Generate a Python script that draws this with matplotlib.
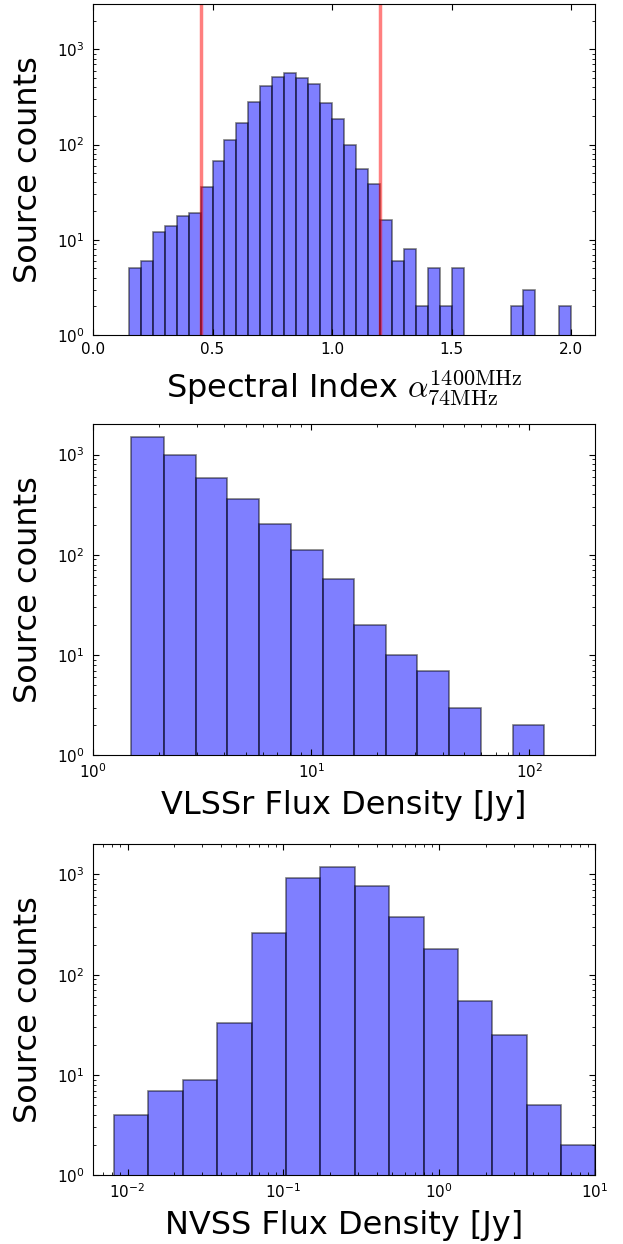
import numpy as np
import matplotlib
matplotlib.use('Agg')
from matplotlib import pyplot as plt
from matplotlib.ticker import MultipleLocator

# 经典风格：刻度朝内，四边都有刻度
plt.rcParams['font.family'] = ['DejaVu Sans']
plt.rcParams['mathtext.fontset'] = 'cm'
plt.rcParams['xtick.direction'] = 'in'
plt.rcParams['ytick.direction'] = 'in'
plt.rcParams['xtick.top'] = True
plt.rcParams['ytick.right'] = True
plt.rcParams['xtick.major.size'] = 4.5
plt.rcParams['ytick.major.size'] = 4.5
plt.rcParams['xtick.minor.size'] = 2.2
plt.rcParams['ytick.minor.size'] = 2.2
plt.rcParams['xtick.labelsize'] = 11
plt.rcParams['ytick.labelsize'] = 11
plt.rcParams['xtick.major.pad'] = 5
plt.rcParams['ytick.major.pad'] = 6

# 谱指数直方图
alpha_edges = [0.10, 0.15, 0.20, 0.25, 0.30, 0.35, 0.40, 0.45, 0.50, 0.55,
               0.60, 0.65, 0.70, 0.75, 0.80, 0.85, 0.90, 0.95, 1.00, 1.05,
               1.10, 1.15, 1.20, 1.25, 1.30, 1.35, 1.40, 1.45, 1.50, 1.55,
               1.60, 1.65, 1.70, 1.75, 1.80, 1.85, 1.90, 1.95, 2.00, 2.05]
alpha_counts = [0, 5, 6, 12, 14, 18, 19, 36, 67, 112,
                170, 280, 415, 516, 564, 496, 436, 275, 187, 99,
                56, 39, 16, 6, 8, 2, 5, 2, 5, 0,
                0, 0, 0, 2, 3, 0, 0, 2, 0]
alpha_cuts = [0.45, 1.2]

# VLSSr 流量
vlssr_edges = [1.50, 2.11, 2.95, 4.12, 5.76, 8.04, 11.27, 15.74, 21.98,
               30.7, 42.9, 59.8, 83.9, 117.2]
vlssr_counts = [1480, 1000, 582, 357, 201, 112, 58, 20, 10, 7, 3, 0, 2]

# NVSS 流量
nvss_edges = [0.00817, 0.0136, 0.0226, 0.0376, 0.0628, 0.1042, 0.1722,
              0.2877, 0.4775, 0.794, 1.321, 2.19, 3.65, 6.03, 10.0]
nvss_counts = [4, 7, 9, 33, 261, 927, 1184, 760, 373, 181, 55, 25, 5, 2]

fig = plt.figure(figsize=(6.23, 12.44), dpi=100)
left, width, height = 0.1493, 0.8058, 0.2661
ax1 = fig.add_axes([left, 0.7307, width, height])
ax2 = fig.add_axes([left, 0.3928, width, height])
ax3 = fig.add_axes([left, 0.0552, width, height])

hist_kw = dict(color='b', alpha=0.5, edgecolor='k', linewidth=1.2)

ax1.hist(alpha_edges[:-1], bins=alpha_edges, weights=alpha_counts, **hist_kw)
for c in alpha_cuts:
    ax1.axvline(c, color='r', alpha=0.5, linewidth=2.5)
ax1.set_yscale('log')
ax1.set_xlim(0, 2.1)
ax1.set_ylim(1, 3000)
ax1.xaxis.set_major_locator(MultipleLocator(0.5))
ax1.set_xlabel(r'Spectral Index $\alpha_{74\mathrm{MHz}}^{1400\mathrm{MHz}}$', fontsize=23)

ax2.hist(vlssr_edges[:-1], bins=vlssr_edges, weights=vlssr_counts, **hist_kw)
ax2.set_xscale('log')
ax2.set_yscale('log')
ax2.set_xlim(1, 200)
ax2.set_ylim(1, 2000)
ax2.set_xlabel('VLSSr Flux Density [Jy]', fontsize=23)

ax3.hist(nvss_edges[:-1], bins=nvss_edges, weights=nvss_counts, **hist_kw)
ax3.set_xscale('log')
ax3.set_yscale('log')
ax3.set_xlim(0.006, 10)
ax3.set_ylim(1, 2000)
ax3.set_xlabel('NVSS Flux Density [Jy]', fontsize=23)

ax1.xaxis.set_label_coords(0.5, -0.10)
ax2.xaxis.set_label_coords(0.5, -0.106)
ax3.xaxis.set_label_coords(0.5, -0.106)

for ax in (ax1, ax2, ax3):
    ax.set_ylabel('Source counts', fontsize=23)
    ax.yaxis.set_label_coords(-0.097, 0.5)
    ax.tick_params(which='both', direction='in', top=True, right=True)

fig.savefig('out.png', dpi=100)
